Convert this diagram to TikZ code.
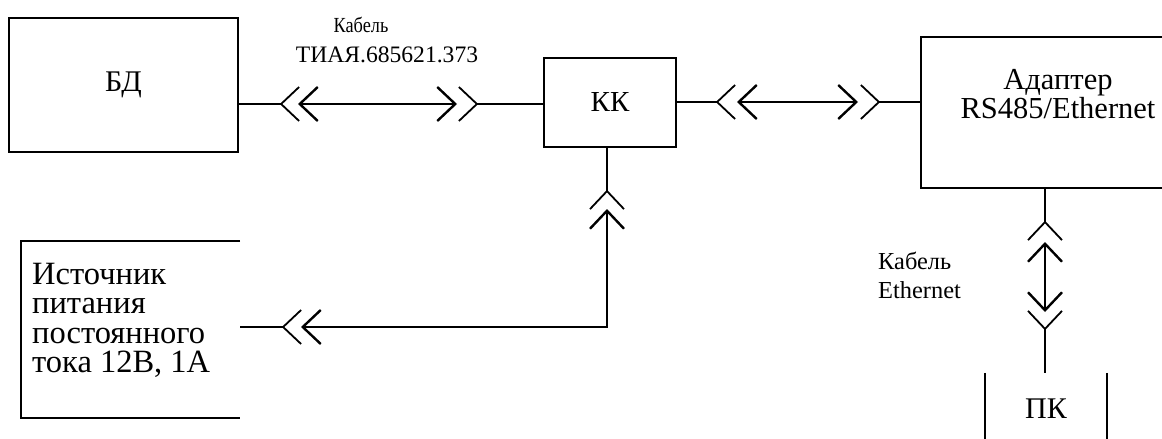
\documentclass[tikz,border=0pt]{standalone}
\usepackage{fontspec}
\setmainfont{Liberation Serif}
\newfontfamily\narrowfont{Liberation Serif}[FakeStretch=0.85]
\usetikzlibrary{positioning,arrows.meta,calc}
\tikzset{
  blk/.style={rectangle, draw, line width=2.4pt, inner sep=0pt,
              font=\fontsize{29}{30}\selectfont},
  thinblk/.style={blk, line width=1.5pt},
  txt/.style={inner sep=0pt, align=left},
  side/.style={line width=1.5pt},
  stub/.style={line width=1.8pt, -{Straight Barb[reversed, length=18pt, width=34pt]}},
  cable/.style={line width=2.4pt,
     {Straight Barb[length=18pt, width=34pt]}-{Straight Barb[length=18pt, width=34pt]}}
}
\begin{document}
\begin{tikzpicture}[x=1pt, y=-1pt]
\useasboundingbox (0,0) rectangle (1162,439);
\node[blk, minimum width=229pt, minimum height=134pt, font=\fontsize{30}{30}\selectfont] (bd) at (123.5,85) {БД};
\node[thinblk, minimum width=132pt, minimum height=89pt] (kk) at (610,102.5) {КК};
\node[blk, minimum width=279pt, minimum height=151pt] (adp) at (1060.5,112.5) {};
\node[txt, align=center, font=\fontsize{30.5}{25}\selectfont] (adpt) at (1058,94) {Адаптер\\RS485/Ethernet};
\node[inner sep=0pt, minimum width=219pt, minimum height=177pt] (src) at (130.5,329.5) {};
\node[txt, anchor=north west, font=\fontsize{32.5}{29.3}\selectfont] (srct) at (32,263)
  {Источник\\питания\\постоянного\\тока 12В, 1А};
\node[inner sep=0pt, minimum width=122pt, minimum height=72pt,
      font=\fontsize{30}{30}\selectfont] (pk) at (1046,409) {ПК};
\draw[side] (src.north east) -- (src.north west) -- (src.south west) -- (src.south east);
\draw[side] (pk.north west) -- (pk.south west) (pk.north east) -- (pk.south east);
% labels
\node[inner sep=0pt, anchor=base, font=\narrowfont\fontsize{21.5}{22}\selectfont] (cab1) at (361,32) {Кабель};
\node[inner sep=0pt, anchor=base, font=\fontsize{23.6}{25}\selectfont] (cab1n) at (387,62) {ТИАЯ.685621.373};
\node[txt, anchor=north west, font=\fontsize{24.4}{29}\selectfont] (cab4) at (878,252) {Кабель\\Ethernet};
% connectors
\coordinate (j1) at (300,104);  \coordinate (j2) at (458,104);
\coordinate (c1a) at (298,104); \coordinate (c1b) at (457,104);
\draw[stub] (bd.east |- j1) -- (j1);
\draw[cable] (c1a) -- (c1b);
\draw[stub] (kk.west |- j2) -- (j2);
\coordinate (j3) at (736,102);  \coordinate (j4) at (860,102);
\coordinate (c2a) at (737,102); \coordinate (c2b) at (858,102);
\draw[stub] (kk.east |- j3) -- (j3);
\draw[cable] (c2a) -- (c2b);
\draw[stub] (adp.west |- j4) -- (j4);
\coordinate (j5) at (607,210);  \coordinate (j6) at (302,327);
\coordinate (c3a) at (607,209); \coordinate (c3b) at (301,327);
\draw[stub] (kk.south -| j5) -- (j5);
\draw[cable] (c3a) |- (c3b);
\draw[stub] (src.east |- j6) -- (j6);
\coordinate (j7) at (1045,241); \coordinate (j8) at (1045,310);
\coordinate (c4a) at (1045,242); \coordinate (c4b) at (1045,312);
\draw[stub] (adp.south -| j7) -- (j7);
\draw[cable] (c4a) -- (c4b);
\draw[stub] (pk.north -| j8) -- (j8);
\end{tikzpicture}
\end{document}
